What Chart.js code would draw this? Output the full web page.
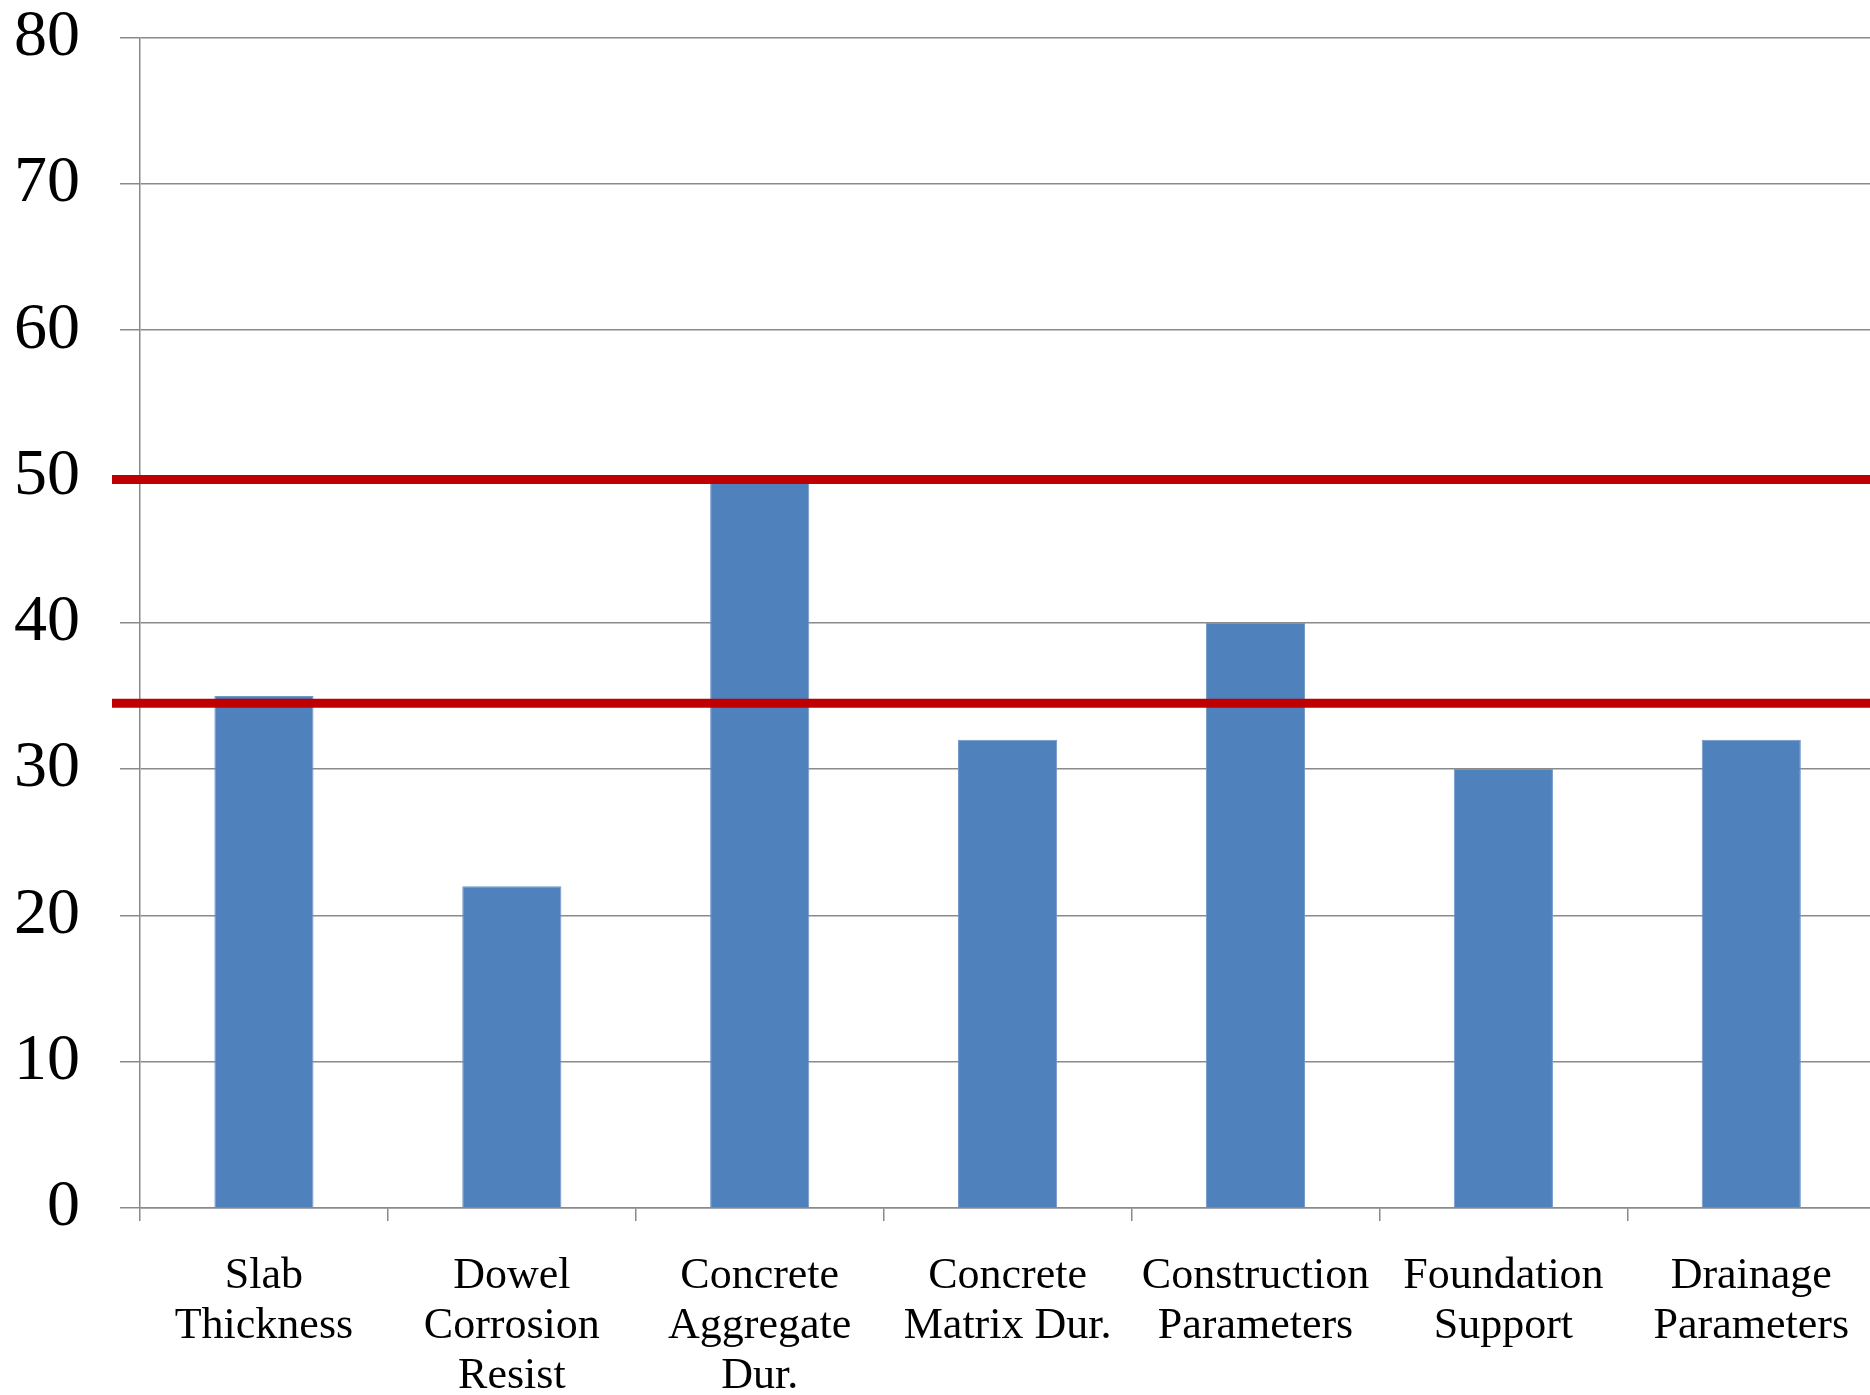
<!DOCTYPE html>
<html>
<head>
<meta charset="utf-8">
<script src="https://cdn.jsdelivr.net/npm/chart.js@4/dist/chart.umd.min.js"></script>
<style>
    html, body { margin: 0; padding: 0; background: #fff; overflow: hidden; }
    #wrap { width: 1879px; height: 1437px; margin-top: -42px; }
</style>
</head>
<body>
<div id="wrap"><canvas id="scoreChart"></canvas></div>
<script>
var categories = [
    ['Slab', 'Thickness'],
    ['Dowel', 'Corrosion', 'Resist'],
    ['Concrete', 'Aggregate', 'Dur.'],
    ['Concrete', 'Matrix Dur.'],
    ['Construction', 'Parameters'],
    ['Foundation', 'Support'],
    ['Drainage', 'Parameters']
];
var scores = [35, 22, 50, 32, 40, 30, 32];
var thresholds = [49.8, 34.5];
var yTicks = [0, 10, 20, 30, 40, 50, 60, 70, 80];

(function () {
    var serif = '"Liberation Serif", "DejaVu Serif", serif';

    // horizontal limit lines, drawn across the plot from the y scale
    var limitLines = {
        id: 'limitLines',
        afterDatasetsDraw: function (chart) {
            var ctx = chart.ctx;
            var y = chart.scales.y;
            ctx.save();
            ctx.strokeStyle = '#C00000';
            ctx.lineWidth = 9;
            thresholds.forEach(function (value) {
                var py = y.getPixelForValue(value);
                ctx.beginPath();
                ctx.moveTo(y.right - 28, py);
                ctx.lineTo(chart.width, py);
                ctx.stroke();
            });
            ctx.restore();
        }
    };

    new Chart(document.getElementById('scoreChart'), {
        type: 'bar',
        data: {
            labels: categories,
            datasets: [
                {
                    data: scores,
                    backgroundColor: '#4F81BD',
                    borderColor: '#7297C8',
                    borderWidth: 1,
                    barPercentage: 0.4,
                    categoryPercentage: 1
                }
            ]
        },
        options: {
            responsive: true,
            maintainAspectRatio: false,
            animation: false,
            layout: {
                padding: { top: 0, right: 0, left: 0, bottom: 0 }
            },
            plugins: {
                legend: { display: false },
                tooltip: { enabled: false }
            },
            scales: {
                y: {
                    min: 0,
                    max: 80,
                    afterFit: function (scale) { scale.width = 140; },
                    afterBuildTicks: function (scale) {
                        scale.ticks = yTicks.map(function (v) { return { value: v }; });
                    },
                    ticks: {
                        color: '#000',
                        padding: 40,
                        font: { family: serif, size: 66 }
                    },
                    grid: {
                        color: '#8a8a8a',
                        lineWidth: 1.5,
                        tickLength: 20
                    },
                    border: { color: '#8a8a8a', width: 1.5 }
                },
                x: {
                    afterFit: function (scale) { scale.height = 187; },
                    ticks: {
                        color: '#000',
                        padding: 30,
                        maxRotation: 0,
                        autoSkip: false,
                        font: { family: serif, size: 44, lineHeight: 1.14 }
                    },
                    grid: {
                        offset: true,
                        drawOnChartArea: false,
                        color: '#8a8a8a',
                        lineWidth: 1.5,
                        tickLength: 13
                    },
                    border: { color: '#8a8a8a', width: 1.5 }
                }
            }
        },
        plugins: [limitLines]
    });
})();
</script>
</body>
</html>
